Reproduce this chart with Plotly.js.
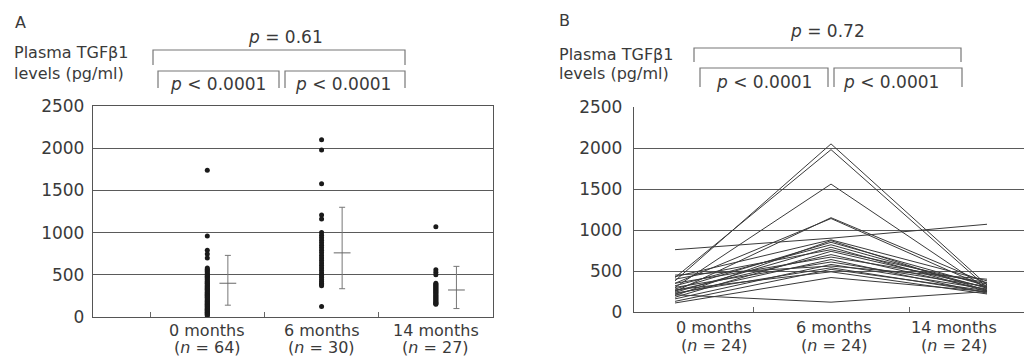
<!DOCTYPE html>
<html>
<head>
<meta charset="utf-8">
<script src="https://cdn.plot.ly/plotly-3.0.1.min.js"></script>
<style>html,body{margin:0;padding:0;background:#fff;overflow:hidden}#chart{width:1024px;height:356px}</style>
</head>
<body>
<div id="chart"></div>
<script>
// ---------- data ----------
const categories = ['0 months', '6 months', '14 months'];
const nA = [64, 30, 27];
const nB = [24, 24, 24];
const yTicks = [0, 500, 1000, 1500, 2000, 2500];

// Panel A: individual values per time point
const valuesA0 = [1740, 960, 790, 745, 700, 580, 565, 550, 540, 525, 510, 500, 490, 480, 470,
  455, 445, 430, 420, 410, 400, 390, 380, 370, 360, 350, 340, 330, 320, 310, 300, 290, 280, 270, 262,
  255, 245, 235, 225, 215, 205, 195, 185, 178, 170, 160, 150, 142, 135, 125, 118, 110, 100, 92, 85,
  78, 70, 62, 55, 48, 40, 32, 25, 15];
const valuesA6 = [2100, 1980, 1580, 1210, 1160, 1000, 970, 940, 910, 880, 850, 820, 790, 760, 730,
  700, 670, 640, 610, 580, 550, 520, 495, 470, 445, 420, 400, 385, 370, 125];
const valuesA14 = [1070, 560, 530, 500, 400, 388, 376, 364, 352, 340, 328, 316, 304, 292, 280,
  268, 256, 244, 232, 220, 208, 196, 184, 172, 165, 158, 150];
// Panel A: mean with error bar extents
const meanA = [400, 760, 320];
const errUpA = [330, 540, 280];
const errDownA = [260, 425, 220];

// Panel B: paired values per subject [0 months, 6 months, 14 months]
const subjectsB = [
  [380, 2050, 330], [420, 1980, 300], [300, 1560, 280], [250, 1150, 350],
  [350, 1140, 300], [760, 900, 1070], [430, 880, 380], [200, 870, 260],
  [280, 850, 320], [320, 820, 290], [240, 790, 250], [400, 760, 340],
  [180, 740, 300], [260, 700, 270], [350, 670, 360], [220, 640, 230],
  [300, 610, 310], [160, 580, 280], [450, 560, 400], [230, 540, 240],
  [130, 520, 260], [270, 490, 220], [110, 420, 250], [210, 120, 250]
];
const pA = ['<i>p</i> = 0.61', '<i>p</i> < 0.0001', '<i>p</i> < 0.0001'];
const pB = ['<i>p</i> = 0.72', '<i>p</i> < 0.0001', '<i>p</i> < 0.0001'];

// ---------- helpers ----------
const W = 1024, H = 356;
const px = x => x / W;
const py = y => 1 - y / H;
const FONT = 'DejaVu Sans, Liberation Sans, sans-serif';
const TXT = '#3a3a3a';

const traces = [];
[valuesA0, valuesA6, valuesA14].forEach((vals, i) => {
  traces.push({
    type: 'scatter', mode: 'markers', xaxis: 'x', yaxis: 'y',
    x: vals.map(() => i + 1), y: vals,
    marker: {symbol: 'circle', size: 5, color: '#1a1a1a'},
    hoverinfo: 'y', showlegend: false
  });
});
traces.push({
  type: 'scatter', mode: 'markers', xaxis: 'x', yaxis: 'y',
  x: meanA.map((_, i) => i + 1 + 0.18), y: meanA,
  marker: {symbol: 'line-ew-open', size: 12, line: {width: 1, color: '#666'}, color: '#666'},
  error_y: {type: 'data', symmetric: false, array: errUpA, arrayminus: errDownA,
            color: '#777', thickness: 1, width: 3},
  showlegend: false
});
subjectsB.forEach(s => {
  traces.push({
    type: 'scatter', mode: 'lines', xaxis: 'x2', yaxis: 'y2',
    x: s.map((_, i) => i + 1), y: s,
    line: {color: '#3a3a3a', width: 1}, showlegend: false
  });
});

const yAxisBase = {
  range: [0, 2500], tickmode: 'array', tickvals: yTicks,
  showgrid: true, gridcolor: '#5a5a5a', gridwidth: 1,
  zeroline: false, showline: true, linecolor: '#555', linewidth: 1.2,
  ticks: '', tickfont: {family: FONT, size: 17, color: TXT}, fixedrange: true
};

const layout = {
  width: W, height: H,
  margin: {l: 0, r: 0, t: 0, b: 0},
  paper_bgcolor: '#fff', plot_bgcolor: '#fff',
  showlegend: false,
  xaxis: {
    domain: [px(93), px(493)], anchor: 'y', range: [0, 3.5],
    showline: true, mirror: true, linecolor: '#555', linewidth: 1.2,
    showgrid: false, zeroline: false, showticklabels: false,
    tickmode: 'array', tickvals: [], ticks: '',
    minor: {tickmode: 'array', tickvals: [0.5, 1.5, 2.5], ticks: 'inside', ticklen: 5, tickcolor: '#666', tickwidth: 1, showgrid: false}
  },
  yaxis: Object.assign({}, yAxisBase, {domain: [py(317), py(106)], anchor: 'x', mirror: true, ticklabelstandoff: 4}),
  xaxis2: {
    domain: [px(634), 1], anchor: 'y2', range: [0.737, 3.237],
    showline: true, linecolor: '#555', linewidth: 1.2,
    showgrid: false, zeroline: false, showticklabels: false,
    tickmode: 'array', tickvals: [], ticks: '',
    minor: {tickmode: 'array', tickvals: [1.5, 2.5], ticks: 'inside', ticklen: 5, tickcolor: '#666', tickwidth: 1, showgrid: false}
  },
  yaxis2: Object.assign({}, yAxisBase, {domain: [py(312), py(107)], anchor: 'x2', ticklabelstandoff: 7}),
  annotations: [],
  shapes: []
};

function txt(x, y, text, size, xanchor) {
  layout.annotations.push({xref: 'paper', yref: 'paper', x: px(x), y: py(y), text: text,
    showarrow: false, xanchor: xanchor || 'center', yanchor: 'middle',
    font: {family: FONT, size: size, color: TXT}});
}
function bracket(x0, x1, y, yEnd) {
  const ln = {color: '#777', width: 1.2};
  layout.shapes.push({type: 'path', xref: 'paper', yref: 'paper',
    path: `M ${px(x0)} ${py(yEnd)} L ${px(x0)} ${py(y)} L ${px(x1)} ${py(y)} L ${px(x1)} ${py(yEnd)}`,
    line: ln});
}

// Panel A header
txt(13, 22, 'A', 16, 'left');
txt(12, 53, 'Plasma TGFβ1', 16, 'left');
txt(12, 73, 'levels (pg/ml)', 16, 'left');
txt(285, 37, pA[0], 17);
bracket(153, 405, 50, 65);
bracket(158, 279, 71, 88);
bracket(285, 405, 71, 88);
txt(218, 84, pA[1], 17);
txt(343, 84, pA[2], 17);

// Panel B header
txt(557, 21, 'B', 16, 'left');
txt(557, 54, 'Plasma TGFβ1', 16, 'left');
txt(557, 74, 'levels (pg/ml)', 16, 'left');
txt(827, 31, pB[0], 17);
bracket(694, 961, 48, 62);
bracket(700, 828, 68, 87);
bracket(834, 962, 68, 87);
txt(764, 82, pB[1], 17);
txt(891, 82, pB[2], 17);

// x category labels
const labPosB = [1.25, 2.02, 2.79];
categories.forEach((c, i) => {
  layout.annotations.push({xref: 'x', yref: 'paper', x: i + 1, y: py(330), text: c, showarrow: false,
    yanchor: 'middle', font: {family: FONT, size: 16, color: TXT}});
  layout.annotations.push({xref: 'x', yref: 'paper', x: i + 1, y: py(347), text: '(<i>n</i> = ' + nA[i] + ')', showarrow: false,
    yanchor: 'middle', font: {family: FONT, size: 16, color: TXT}});
  layout.annotations.push({xref: 'x2', yref: 'paper', x: labPosB[i], y: py(327), text: c, showarrow: false,
    yanchor: 'middle', font: {family: FONT, size: 16, color: TXT}});
  layout.annotations.push({xref: 'x2', yref: 'paper', x: labPosB[i], y: py(345), text: '(<i>n</i> = ' + nB[i] + ')', showarrow: false,
    yanchor: 'middle', font: {family: FONT, size: 16, color: TXT}});
});

Plotly.newPlot('chart', traces, layout, {staticPlot: true, displayModeBar: false});
</script>
</body>
</html>
